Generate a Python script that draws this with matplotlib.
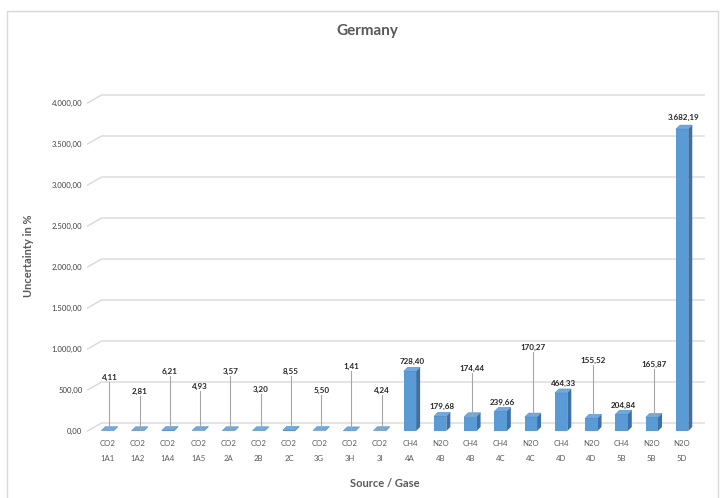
import matplotlib
matplotlib.use("Agg")
import matplotlib.pyplot as plt
from matplotlib.patches import Polygon, Rectangle
from matplotlib.transforms import blended_transform_factory

# ---- data -------------------------------------------------------------
gases = ["CO2", "CO2", "CO2", "CO2", "CO2", "CO2", "CO2", "CO2", "CO2", "CO2",
         "CH4", "N2O", "CH4", "CH4", "N2O", "CH4", "N2O", "CH4", "N2O", "N2O"]
sources = ["1A1", "1A2", "1A4", "1A5", "2A", "2B", "2C", "3G", "3H", "3I",
           "4A", "4B", "4B", "4C", "4C", "4D", "4D", "5B", "5B", "5D"]
uncertainty = [4.11, 2.81, 6.21, 4.93, 3.57, 3.20, 8.55, 5.50, 1.41, 4.24,
               728.40, 179.68, 174.44, 239.66, 170.27, 464.33, 155.52, 204.84,
               165.87, 3682.19]
y_ticks = [0, 500, 1000, 1500, 2000, 2500, 3000, 3500, 4000]

# ---- label layout (height of each value label, and whether it has a leader line)
label_y = [659, 488, 732, 549, 732, 512, 732, 500, 793, 500,
           854, 305, 768, 354, 1024, 585, 866, 317, 817, 3829]
leader = [True] * 10 + [False, False, True, False, True, False, True, False, True, False]

# ---- geometry / style -------------------------------------------------
W, H = 720, 498
PX_X = 30.24          # pixels per category
PX_Y = 0.082          # pixels per unit
X0, X1 = -0.7, 19.8
Y0, Y1 = -60, 4250
BAR_W = 0.41
DX, DY = 4 / PX_X, 4 / PX_Y          # bar depth
WX, WY = 14 / PX_X, 8 / PX_Y         # back-wall offset for gridlines

FRONT, SIDE, TOP = "#5b9bd5", "#3c70a6", "#70a9de"
GRID = "#d9d9d9"
TXT = "#595959"
FONT = "Lato"


def de_fmt(v):
    s = f"{v:,.2f}"
    return s.replace(",", "X").replace(".", ",").replace("X", ".")


fig = plt.figure(figsize=(W / 100, H / 100), dpi=100)
fig.patch.set_facecolor("white")

# chart border
fig.add_artist(Rectangle((7 / W, -0.01), (W - 9) / W, (H - 11) / H + 0.01,
                         transform=fig.transFigure, fill=False,
                         edgecolor=GRID, lw=1.0))

left_px = 107.5 + X0 * PX_X
bottom_px = 431 + (-Y0) * PX_Y
ax = fig.add_axes([left_px / W, (H - bottom_px) / H,
                   (X1 - X0) * PX_X / W, (Y1 - Y0) * PX_Y / H])
ax.set_xlim(X0, X1)
ax.set_ylim(Y0, Y1)
for sp in ax.spines.values():
    sp.set_visible(False)
ax.set_xticks([])
ax.set_yticks(y_ticks)
ax.set_yticklabels([de_fmt(v) for v in y_ticks], fontsize=5.6,
                   fontfamily=FONT, color="#404040")
ax.tick_params(axis="y", length=0, pad=2.8)

# gridlines on the back wall, with the slanted side-wall part
for v in y_ticks:
    ax.plot([X0 + 0.04, X0 + 0.04 + WX, 19.73], [v, v + WY, v + WY],
            color=GRID, lw=1.0, zorder=1, solid_joinstyle="miter")

# 3D-style bars: front face, right side and top
n = len(uncertainty)
for i, v in enumerate(uncertainty):
    xl, xr = i - BAR_W / 2, i + BAR_W / 2
    ax.add_patch(Polygon([(xr, 0), (xr + DX, DY), (xr + DX, v + DY), (xr, v)],
                         closed=True, facecolor=SIDE, edgecolor="none", zorder=3))
    ax.add_patch(Rectangle((xl, 0), BAR_W, v, facecolor=FRONT,
                           edgecolor="none", zorder=3))
    ax.add_patch(Polygon([(xl, v), (xr, v), (xr + DX, v + DY), (xl + DX, v + DY)],
                         closed=True, facecolor=TOP, edgecolor="#4a84bf",
                         lw=0.3, zorder=4))

# value labels with leader lines
for i, (v, ly, ld) in enumerate(zip(uncertainty, label_y, leader)):
    lx = i + DX / 2
    ax.text(lx, ly, de_fmt(v), ha="center", va="center", fontsize=5.8,
            fontfamily=FONT, fontweight="bold", color="#262626", zorder=6)
    if ld:
        ax.plot([lx, lx], [ly - 65, v + DY / 2], color="#a6a6a6",
                lw=0.8, zorder=5)

# two-row category labels
for i, (g, s) in enumerate(zip(gases, sources)):
    ax.text(i, (431 - 443) / PX_Y, g, ha="center", va="center", fontsize=5.6,
            fontfamily=FONT, color=TXT, clip_on=False)
    ax.text(i, (431 - 458.5) / PX_Y, s, ha="center", va="center", fontsize=5.6,
            fontfamily=FONT, color=TXT, clip_on=False)

# titles
fig.text(367 / W, 1 - 31 / H, "Germany", ha="center", va="center",
         fontsize=11, fontweight="bold", fontfamily=FONT, color=TXT)
fig.text(385 / W, 1 - 483 / H, "Source / Gase", ha="center", va="center",
         fontsize=8, fontweight="bold", fontfamily=FONT, color=TXT)
fig.text(28 / W, 1 - 256 / H, "Uncertainty in %", ha="center", va="center",
         rotation=90, fontsize=8, fontweight="bold", fontfamily=FONT, color=TXT)

fig.savefig("out.png", dpi=100, facecolor="white")
